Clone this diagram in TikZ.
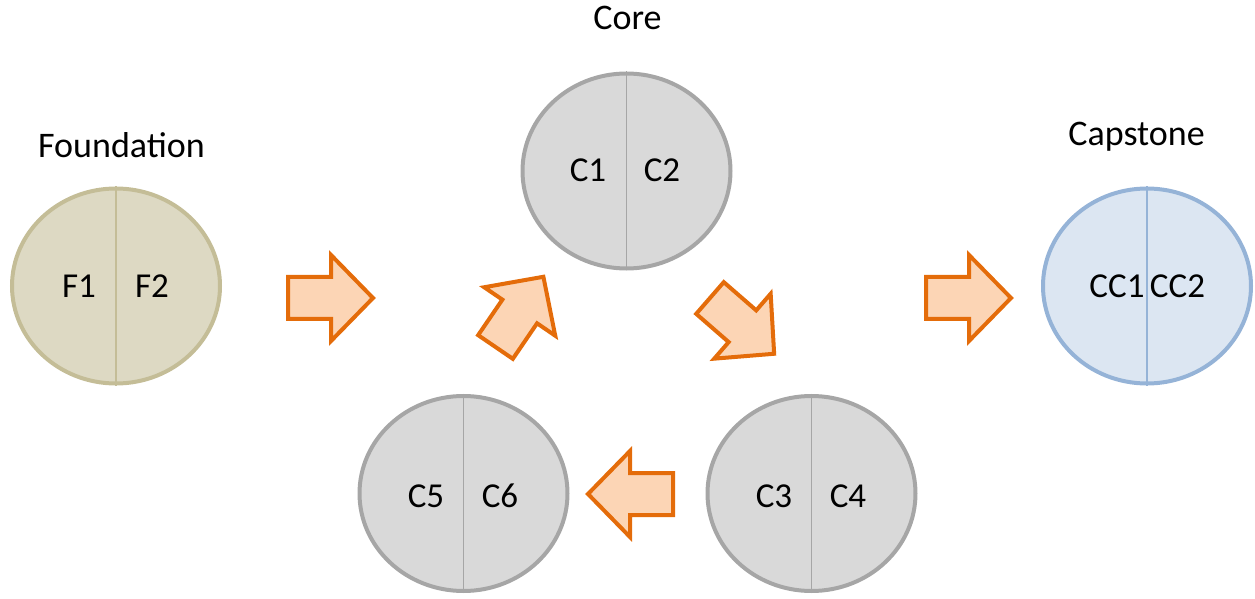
\documentclass[tikz,border=0pt]{standalone}
\usepackage{fontspec}
\setmainfont{Carlito}
\usetikzlibrary{shapes.geometric}

\definecolor{tanfill}{HTML}{DDD9C3}
\definecolor{tanline}{HTML}{C4BD97}
\definecolor{grayfill}{HTML}{D9D9D9}
\definecolor{grayline}{HTML}{A6A6A6}
\definecolor{bluefill}{HTML}{DCE6F2}
\definecolor{blueline}{HTML}{95B3D7}
\definecolor{arrowfill}{HTML}{FCD5B5}
\definecolor{arrowline}{HTML}{E46C0A}

\tikzset{
  disc/.style={ellipse, draw, line width=2pt, minimum width=104pt,
    minimum height=97.5pt, inner sep=0pt},
  tandisc/.style={disc, draw=tanline, fill=tanfill},
  graydisc/.style={disc, draw=grayline, fill=grayfill},
  bluedisc/.style={disc, draw=blueline, fill=bluefill},
  divider/.style={line width=0.7pt},
  label/.style={anchor=base, inner sep=0pt, font=\fontsize{17.5}{20}\selectfont},
  title/.style={anchor=base, inner sep=0pt, font=\fontsize{18}{21}\selectfont},
  blockarrow/.pic={
    \draw[draw=arrowline, fill=arrowfill, line width=2pt, line join=miter]
      (0,-21) -- (43,-21) -- (43,-43) -- (85,0) -- (43,43) -- (43,21)
      -- (0,21) -- cycle;
  }
}

\begin{document}
\begin{tikzpicture}[x=0.5pt,y=-0.5pt]
  \useasboundingbox (0,0) rectangle (1255,599);

  % discs
  \node[tandisc]  (found) at (116,286)   {};
  \node[graydisc] (core)  at (626.5,171) {};
  \node[graydisc] (c56)   at (463.5,493.5) {};
  \node[graydisc] (c34)   at (811.5,493.5) {};
  \node[bluedisc] (cap)   at (1147,286)  {};

  % dividers
  \draw[divider, tanline]  (found.north) -- (found.south);
  \draw[divider, grayline] (core.north)  -- (core.south);
  \draw[divider, grayline] (c56.north)   -- (c56.south);
  \draw[divider, grayline] (c34.north)   -- (c34.south);
  \draw[divider, blueline] (cap.north)   -- (cap.south);

  % course labels
  \node[label] (f1)  at (79,298)    {F1};
  \node[label] (f2)  at (152,298)   {F2};
  \node[label] (c1)  at (588,182)   {C1};
  \node[label] (c2)  at (662,182)   {C2};
  \node[label] (c5)  at (426,507)   {C5};
  \node[label] (c6)  at (500,507)   {C6};
  \node[label] (c3)  at (774,507)   {C3};
  \node[label] (c4)  at (848,507)   {C4};
  \node[label] (cc1) at (1117,298)  {CC1};
  \node[label] (cc2) at (1177.5,298) {CC2};

  % stage titles
  \node[title] (tfound) at (121.5,158) {Foundation};
  \node[title] (tcore)  at (627.5,29.5) {Core};
  \node[title] (tcap)   at (1136.5,146) {Capstone};

  % flow arrows
  \pic (a1) at (288,298) {blockarrow};
  \pic[rotate=55.7] (a2) at (495.5,347) {blockarrow};
  \pic[rotate=-41] (a3) at (710,298) {blockarrow};
  \pic[rotate=180] (a4) at (673,494) {blockarrow};
  \pic (a5) at (926,298) {blockarrow};
\end{tikzpicture}
\end{document}
